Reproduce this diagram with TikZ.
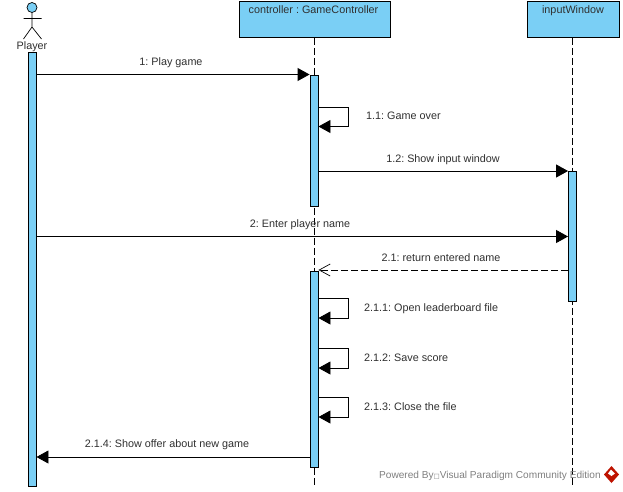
\documentclass[tikz,border=0pt]{standalone}
\usepackage{fontspec}
\setmainfont{Liberation Sans}
\newfontfamily\symfont{DejaVu Sans}
\usetikzlibrary{arrows.meta}
\definecolor{vpblue}{HTML}{7ACFF5}
\definecolor{vptext}{HTML}{303030}
\frenchspacing
\tikzset{
  lbl/.style={font=\fontsize{10.8}{12}\selectfont,text=vptext,inner sep=0pt,anchor=base},
  head/.style={draw=black,fill=vpblue,line width=0.9pt,inner sep=0pt,minimum height=36pt},
  bar/.style={draw=black,fill=vpblue,line width=0.9pt,inner sep=0pt,minimum width=8pt},
  life/.style={draw=black,line width=0.9pt,dash pattern=on 7pt off 3pt},
  msg/.style={draw=black,line width=0.9pt,-{Triangle[length=12pt,width=13pt]},shorten >=0pt},
  ret/.style={draw=black,line width=0.9pt,dash pattern=on 7pt off 3pt,-{Straight Barb[length=11pt,width=12pt,line width=0.7pt]}},
}
\begin{document}
\begin{tikzpicture}[x=1pt,y=-1pt]
\useasboundingbox (0,0) rectangle (623,491);
\fill[white] (0,0) rectangle (623,491);
% heads
\node[head,minimum width=151pt,anchor=north west] (ctl) at (238.5,1) {};
\node[lbl,anchor=base] (ctltxt) at (313.5,13) {controller : GameController};
\node[head,minimum width=92pt,anchor=north west] (inp) at (527,1) {};
\node[lbl,anchor=base] (inptxt) at (573,13) {inputWindow};
% actor
\node[circle,draw=black,fill=vpblue,line width=0.7pt,minimum size=10pt,inner sep=0pt] (ahead) at (32,7.5) {};
\coordinate (ahip) at (32,27);
\coordinate (aarml) at (23.5,18.5);
\coordinate (aarmr) at (41.5,18.5);
\coordinate (afootl) at (23.5,39);
\coordinate (afootr) at (41.5,39);
\draw[line width=0.7pt] (ahead) -- (ahip) (aarml) -- (aarmr) (afootl) -- (ahip) -- (afootr);
\node[lbl] (atxt) at (32,49) {Player};
% lifelines
\coordinate (ctlend) at (314,487);
\coordinate (inpend) at (572.5,487);
\draw[life] (ctl.south -| ctlend) -- (ctlend);
\draw[life] (inp.south -| inpend) -- (inpend);
% activations
\node[bar,anchor=north,minimum height=434pt] (ba) at (32,52) {};
\node[bar,anchor=north,minimum height=131pt] (bc1) at (314,75) {};
\node[bar,anchor=north,minimum height=196pt] (bc2) at (314,271) {};
\node[bar,anchor=north,minimum height=130pt] (bi) at (572.5,171) {};
% messages
\draw[msg] (ba.east |- 0,74.5) -- (bc1.west |- 0,74.5);
\node[lbl] (l1) at (171,65.5) {1: Play game};
\draw[msg] (bc1.east |- 0,107) -- (348.5,107) -- (348.5,126.5) -- (bc1.east |- 0,126.5);
\node[lbl,anchor=base west] (l11) at (366,119) {1.1: Game over};
\draw[msg] (bc1.east |- 0,171) -- (bi.west |- 0,171);
\node[lbl] (l12) at (443,162.5) {1.2: Show input window};
\draw[msg] (ba.east |- 0,236.5) -- (bi.west |- 0,236.5);
\node[lbl] (l2) at (300,227.5) {2: Enter player name};
\draw[ret] (bi.west |- 0,270) -- (bc2.east |- 0,270);
\node[lbl] (l21) at (441,261.5) {2.1: return entered name};
\draw[msg] (bc2.east |- 0,298) -- (348.5,298) -- (348.5,318) -- (bc2.east |- 0,318);
\node[lbl,anchor=base west] (l211) at (364,311.5) {2.1.1: Open leaderboard file};
\draw[msg] (bc2.east |- 0,348) -- (348.5,348) -- (348.5,368) -- (bc2.east |- 0,368);
\node[lbl,anchor=base west] (l212) at (364,361.5) {2.1.2: Save score};
\draw[msg] (bc2.east |- 0,397) -- (348.5,397) -- (348.5,417) -- (bc2.east |- 0,417);
\node[lbl,anchor=base west] (l213) at (364,410) {2.1.3: Close the file};
\draw[msg] (bc2.west |- 0,457) -- (ba.east |- 0,457);
\node[lbl] (l214) at (167,447.5) {2.1.4: Show offer about new game};
% watermark
\node[font=\fontsize{10.1}{12}\selectfont,text=black!50,inner sep=0pt,anchor=base west] (wm) at (379,478.5) {Powered By{\symfont\fontsize{6.5}{7}\selectfont □}Visual Paradigm Community Edition};
\fill[red!70!black!85!orange] (611.5,466) -- (619,474.5) -- (611.5,483) -- (604,474.5) -- cycle;
\fill[white] (611,469.5) -- (615,473.5) -- (611.5,476) -- (608,473.5) -- cycle;
\end{tikzpicture}
\end{document}
